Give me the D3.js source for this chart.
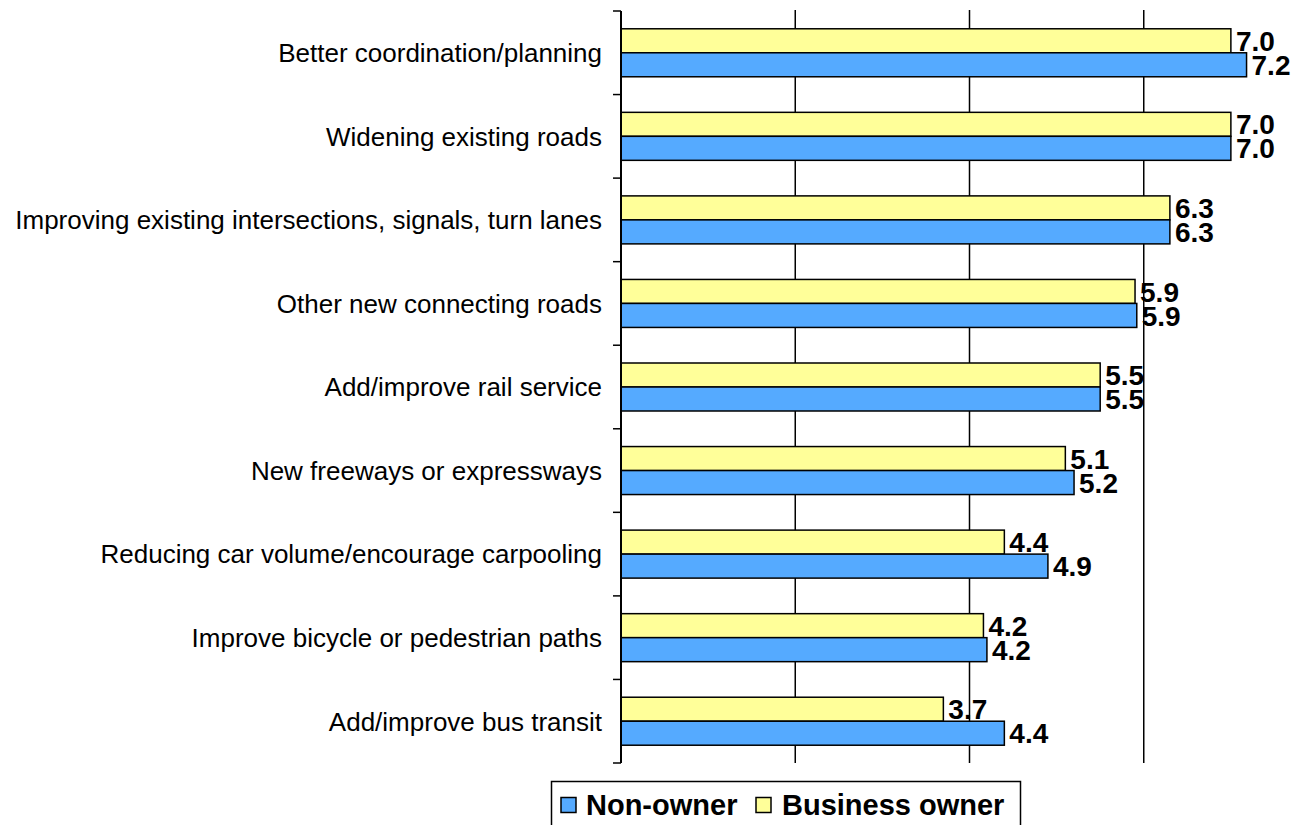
<!DOCTYPE html>
<html>
<head>
<meta charset="utf-8">
<script src="https://cdn.jsdelivr.net/npm/d3@7"></script>
<style>
  html, body { margin: 0; padding: 0; background: #fff; }
  svg { display: block; }
</style>
</head>
<body>
<svg id="chart" width="1295" height="825"></svg>
<script>
// ---- data ----
const categories = [
  "Better coordination/planning",
  "Widening existing roads",
  "Improving existing intersections, signals, turn lanes",
  "Other new connecting roads",
  "Add/improve rail service",
  "New freeways or expressways",
  "Reducing car volume/encourage carpooling",
  "Improve bicycle or pedestrian paths",
  "Add/improve bus transit"
];
const businessOwner = [7.0, 7.0, 6.3, 5.9, 5.5, 5.1, 4.4, 4.16, 3.7];
const nonOwner      = [7.18, 7.0, 6.3, 5.92, 5.5, 5.2, 4.9, 4.2, 4.4];
const seriesNames = ["Business owner", "Non-owner"];
const legendOrder = ["Non-owner", "Business owner"];
const gridTicks = [2, 4, 6, 8];

const colors = { "Business owner": "#FFFF99", "Non-owner": "#55AAFF" };
const seriesData = { "Business owner": businessOwner, "Non-owner": nonOwner };

const svg = d3.select("#chart");
const pL = 621, pR = 1318, pT = 11, pB = 763;

const x = d3.scaleLinear().domain([0, 8]).range([pL, pR]);
const y = d3.scaleBand().domain(categories).range([pT, pB]).padding(0);
const ys = d3.scaleBand().domain(seriesNames).range([0, y.bandwidth()])
  .paddingInner(0).paddingOuter(0.741);

const FONT = "'Liberation Sans', Arial, Helvetica, sans-serif";

// gridlines
svg.append("g").selectAll("line").data(gridTicks).join("line")
  .attr("x1", d => x(d)).attr("x2", d => x(d))
  .attr("y1", pT - 1).attr("y2", pB)
  .attr("stroke", "#000").attr("stroke-width", 1.5);

// bars
const rows = categories.map((c, i) => ({ c, i }));
const groups = svg.append("g").selectAll("g").data(rows).join("g")
  .attr("transform", d => `translate(0,${y(d.c)})`);

seriesNames.forEach(s => {
  groups.append("rect")
    .attr("x", x(0))
    .attr("y", ys(s))
    .attr("width", d => x(seriesData[s][d.i]) - x(0))
    .attr("height", ys.bandwidth())
    .attr("fill", colors[s])
    .attr("stroke", "#000").attr("stroke-width", 1.5);
  groups.append("text")
    .attr("x", d => x(seriesData[s][d.i]) + 5)
    .attr("y", ys(s) + ys.bandwidth() / 2)
    .attr("dy", "0.36em")
    .attr("font-family", FONT).attr("font-weight", "bold").attr("font-size", 28)
    .attr("fill", "#000")
    .text(d => d3.format(".1f")(seriesData[s][d.i]));
});

// y axis (ticks at band boundaries)
const boundaries = categories.map(c => y(c)).concat([pB]);
svg.append("line").attr("x1", pL).attr("x2", pL).attr("y1", pT).attr("y2", pB)
  .attr("stroke", "#000").attr("stroke-width", 2);
svg.append("g").selectAll("line").data(boundaries).join("line")
  .attr("x1", pL - 8).attr("x2", pL).attr("y1", d => d).attr("y2", d => d)
  .attr("stroke", "#000").attr("stroke-width", 1.5);

svg.append("g").selectAll("text").data(categories).join("text")
  .attr("x", 602)
  .attr("y", d => y(d) + y.bandwidth() / 2)
  .attr("dy", "0.36em")
  .attr("text-anchor", "end")
  .attr("font-family", FONT).attr("font-size", 26)
  .attr("fill", "#000")
  .text(d => d);

// legend
const lg = svg.append("g");
lg.append("rect").attr("x", 551.5).attr("y", 781.5).attr("width", 469).attr("height", 60)
  .attr("fill", "#fff").attr("stroke", "#000").attr("stroke-width", 1.5);
const legendPos = { "Non-owner": { sq: 561, tx: 586 }, "Business owner": { sq: 756, tx: 782 } };
legendOrder.forEach(s => {
  lg.append("rect").attr("x", legendPos[s].sq).attr("y", 797.5).attr("width", 15).attr("height", 15)
    .attr("fill", colors[s]).attr("stroke", "#000").attr("stroke-width", 1.5);
  lg.append("text").attr("x", legendPos[s].tx).attr("y", 815)
    .attr("font-family", FONT).attr("font-weight", "bold").attr("font-size", 29)
    .attr("fill", "#000").text(s);
});
</script>
</body>
</html>
